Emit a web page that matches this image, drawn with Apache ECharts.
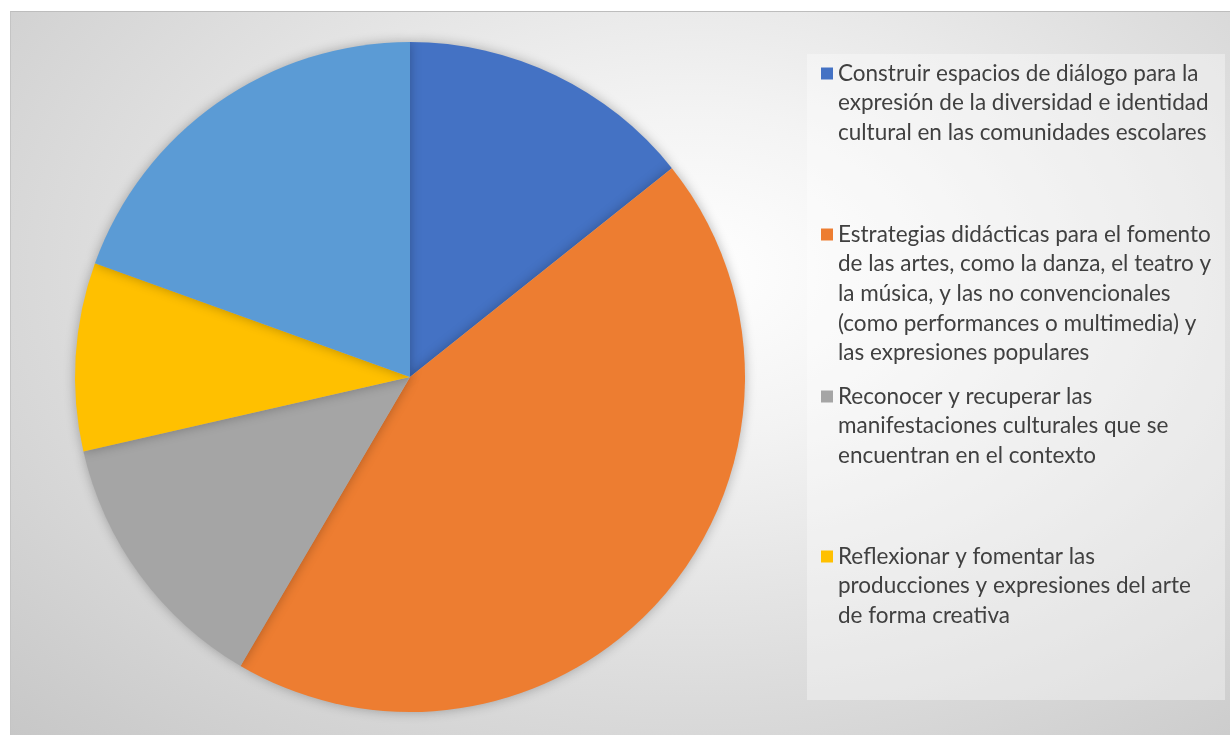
<!DOCTYPE html>
<html>
<head>
<meta charset="utf-8">
<script src="https://cdn.jsdelivr.net/npm/echarts@6/dist/echarts.min.js"></script>
<style>
  html, body { margin: 0; padding: 0; background: #fff; }
  .piechart {
    position: absolute;
    left: 10px;
    top: 11px;
    width: 1220px;
    height: 724px;
    box-sizing: border-box;
    border-top: 1px solid #bdbdbd;
    border-left: 1px solid #c4c4c4;
    background: radial-gradient(ellipse farthest-corner at 56% 36%, #ffffff 0%, #f3f3f3 25%, #dedede 60%, #c7c7c7 100%);
  }
</style>
</head>
<body>
<div class="piechart" id="piechart"></div>
<script type="text/javascript">
  // categories in drawing order (clockwise from 12 o'clock)
  var categories = [
    'Construir espacios de diálogo para la expresión de la diversidad e identidad cultural en las comunidades escolares',
    'Estrategias didácticas para el fomento de las artes, como la danza, el teatro y la música, y las no convencionales (como performances o multimedia) y las expresiones populares',
    'Reconocer y recuperar las manifestaciones culturales que se encuentran en el contexto',
    'Reflexionar y fomentar las producciones y expresiones del arte de forma creativa',
    'Otro'
  ];
  var values = [11, 34, 10, 7, 15];
  var colors = ['#4472C4', '#ED7D31', '#A5A5A5', '#FFC000', '#5B9BD5'];
  // legend text as it wraps in the picture (the fifth slice has no entry)
  var legendLines = [
    ['Construir espacios de diálogo para la', 'expresión de la diversidad e identidad', 'cultural en las comunidades escolares'],
    ['Estrategias didácticas para el fomento', 'de las artes, como la danza, el teatro y', 'la música, y las no convencionales', '(como performances o multimedia) y', 'las expresiones populares'],
    ['Reconocer y recuperar las', 'manifestaciones culturales que se', 'encuentran en el contexto'],
    ['Reflexionar y fomentar las', 'producciones y expresiones del arte', 'de forma creativa']
  ];
  var legendTops = [50, 211, 373, 533];

  var myChart = echarts.init(document.getElementById('piechart'));

  var legends = legendLines.map(function (lines, i) {
    return {
      left: 805,
      top: legendTops[i],
      padding: 0,
      itemWidth: 0,
      itemHeight: 0,
      selectedMode: false,
      data: [categories[i]],
      formatter: function () {
        return lines.map(function (l, k) {
          return (k === 0 ? '{sq| }{g| }' : '{in| }') + '{t|' + l + '}';
        }).join('\n');
      },
      textStyle: {
        rich: {
          sq: { width: 12, height: 12, backgroundColor: colors[i] },
          g: { width: 5 },
          in: { width: 17 },
          t: { fontFamily: 'Lato', fontSize: 22.5, color: '#404040', lineHeight: 29.6 }
        }
      }
    };
  });

  var option = {
    backgroundColor: 'transparent',
    animation: false,
    legend: legends,
    graphic: [{
      type: 'rect',
      left: 796,
      top: 42,
      shape: { width: 418, height: 646 },
      style: { fill: 'rgba(255,255,255,0.35)' },
      silent: true,
      z: -1
    }],
    series: [{
      type: 'pie',
      center: [399, 365],
      radius: 335,
      startAngle: 90,
      clockwise: true,
      silent: true,
      label: { show: false },
      labelLine: { show: false },
      itemStyle: {
        borderWidth: 0,
        shadowBlur: 12,
        shadowColor: 'rgba(0,0,0,0.28)'
      },
      data: categories.map(function (c, i) {
        return { name: c, value: values[i], itemStyle: { color: colors[i] } };
      })
    }]
  };
  myChart.setOption(option);
</script>
</body>
</html>
